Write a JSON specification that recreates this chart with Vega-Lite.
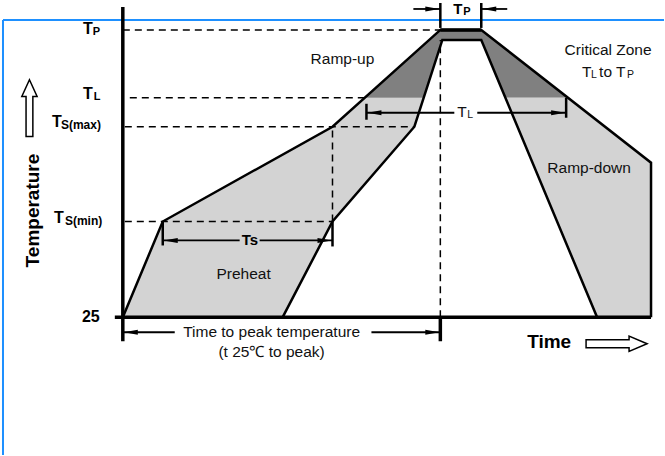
{
  "$schema": "https://vega.github.io/schema/vega-lite/v6.json",
  "width": 665,
  "height": 456,
  "padding": 0,
  "autosize": {"type": "fit", "contains": "padding"},
  "config": {"view": {"stroke": null}, "text": {"font": "Liberation Sans"}},
  "datasets": {
    "border": [
      {"t": -120, "t2": -120, "T": -113, "T2": 323},
      {"t": -120, "t2": 542, "T": 323, "T2": 323}
    ],
    "zones": [
      {"region": "leftLight", "shade": "light", "T": 25, "t": 0, "t2": 160},
      {"region": "leftLight", "shade": "light", "T": 121, "t": 40, "t2": 210},
      {"region": "leftLight", "shade": "light", "T": 216, "t": 210, "t2": 292},
      {"region": "leftLight", "shade": "light", "T": 245, "t": 242.3, "t2": 301.3},
      {"region": "leftDark", "shade": "dark", "T": 245, "t": 242.3, "t2": 301.3},
      {"region": "leftDark", "shade": "dark", "T": 303, "t": 306.9, "t2": 320},
      {"region": "topDark", "shade": "dark", "T": 303, "t": 306.9, "t2": 371.8},
      {"region": "topDark", "shade": "dark", "T": 313, "t": 318, "t2": 359},
      {"region": "rightDark", "shade": "dark", "T": 245, "t": 383.2, "t2": 445.9},
      {"region": "rightDark", "shade": "dark", "T": 303, "t": 359, "t2": 371.8},
      {"region": "rightLight", "shade": "light", "T": 25, "t": 475, "t2": 529},
      {"region": "rightLight", "shade": "light", "T": 180, "t": 410.3, "t2": 529},
      {"region": "rightLight", "shade": "light", "T": 245, "t": 383.2, "t2": 445.9}
    ],
    "dashed": [
      {"t": 0, "t2": 318, "T": 313, "T2": 313},
      {"t": 7, "t2": 242, "T": 245, "T2": 245},
      {"t": 2, "t2": 292, "T": 216, "T2": 216},
      {"t": 2, "t2": 210, "T": 121, "T2": 121},
      {"t": 210, "t2": 210, "T": 121, "T2": 216},
      {"t": 318, "t2": 318, "T": 25, "T2": 303}
    ],
    "profiles": [
      {"id": "outer", "seq": 1, "t": 0, "T": 25},
      {"id": "outer", "seq": 2, "t": 40, "T": 121},
      {"id": "outer", "seq": 3, "t": 210, "T": 216},
      {"id": "outer", "seq": 4, "t": 318, "T": 313},
      {"id": "outer", "seq": 5, "t": 359, "T": 313},
      {"id": "outer", "seq": 6, "t": 529, "T": 180},
      {"id": "outer", "seq": 7, "t": 529, "T": 25},
      {"id": "inner", "seq": 1, "t": 160, "T": 25},
      {"id": "inner", "seq": 2, "t": 210, "T": 121},
      {"id": "inner", "seq": 3, "t": 292, "T": 216},
      {"id": "inner", "seq": 4, "t": 320, "T": 303},
      {"id": "inner", "seq": 5, "t": 359, "T": 303},
      {"id": "inner", "seq": 6, "t": 475, "T": 25}
    ],
    "thick": [
      {"t": 0, "t2": 0, "T": 1, "T2": 336},
      {"t": -8, "t2": 529, "T": 25, "T2": 25},
      {"t": 318, "t2": 359, "T": 313, "T2": 313},
      {"t": 318, "t2": 318, "T": 1, "T2": 25}
    ],
    "ticks": [
      {"t": 318, "t2": 318, "T": 315, "T2": 340},
      {"t": 359, "t2": 359, "T": 315, "T2": 340},
      {"t": 40, "t2": 40, "T": 97, "T2": 121},
      {"t": 210, "t2": 210, "T": 96, "T2": 121},
      {"t": 244, "t2": 244, "T": 223, "T2": 239},
      {"t": 444, "t2": 444, "T": 225, "T2": 245}
    ],
    "shafts": [
      {"t": 291, "t2": 318, "T": 334, "T2": 334},
      {"t": 359, "t2": 385, "T": 334, "T2": 334},
      {"t": 244, "t2": 332, "T": 230, "T2": 230},
      {"t": 355, "t2": 444, "T": 230, "T2": 230},
      {"t": 40, "t2": 117, "T": 102, "T2": 102},
      {"t": 137, "t2": 210, "T": 102, "T2": 102},
      {"t": 0, "t2": 52, "T": 10, "T2": 10},
      {"t": 249, "t2": 318, "T": 10, "T2": 10}
    ],
    "headsRight": [
      {"t": 317, "T": 334},
      {"t": 443, "T": 230},
      {"t": 209, "T": 102},
      {"t": 317, "T": 10}
    ],
    "headsLeft": [
      {"t": 360, "T": 334},
      {"t": 245, "T": 230},
      {"t": 41, "T": 102},
      {"t": 1, "T": 10}
    ],
    "bold16": [
      {"label": "T", "t": -40, "T": 314},
      {"label": "T", "t": -40, "T": 249},
      {"label": "T", "t": -71, "T": 220.5},
      {"label": "T", "t": -69, "T": 124.5},
      {"label": "25", "t": -41, "T": 25}
    ],
    "bold11": [
      {"label": "P", "t": -30, "T": 311},
      {"label": "L", "t": -29, "T": 246},
      {"label": "P", "t": 341, "T": 331}
    ],
    "bold12": [
      {"label": "S(max)", "t": -62, "T": 218},
      {"label": "S(min)", "t": -58, "T": 122}
    ],
    "bold15": [
      {"label": "T", "t": 331, "T": 334},
      {"label": "Ts", "t": 119, "T": 102}
    ],
    "axisTitle": [
      {"label": "Temperature", "t": -90, "T": 132}
    ],
    "timeTitle": [
      {"label": "Time", "t": 427, "T": 0}
    ],
    "zoneLabels": [
      {"label": "Ramp-up", "t": 220, "T": 284},
      {"label": "Critical Zone", "t": 486, "T": 293},
      {"label": "Ramp-down", "t": 467, "T": 175},
      {"label": "Preheat", "t": 121, "T": 68}
    ],
    "timeLabels": [
      {"label": "Time to peak temperature", "t": 149, "T": 10},
      {"label": "(t 25℃ to peak)", "t": 149, "T": -10}
    ],
    "reg15": [
      {"label": "T", "t": 460, "T": 271},
      {"label": "to T", "t": 477, "T": 271},
      {"label": "T", "t": 335, "T": 231}
    ],
    "reg10": [
      {"label": "L", "t": 469, "T": 268},
      {"label": "P", "t": 505, "T": 268},
      {"label": "L", "t": 345, "T": 228}
    ],
    "upArrow": [{"t": -93.5, "T": 234.7}],
    "rightArrow": [{"t": 494.5, "T": -1.5}]
  },
  "encoding": {
    "x": {"field": "t", "type": "quantitative", "scale": {"domain": [-123, 542], "nice": false, "zero": false}, "axis": null},
    "y": {"field": "T", "type": "quantitative", "scale": {"domain": [-113, 343], "nice": false, "zero": false}, "axis": null}
  },
  "layer": [
    {
      "data": {"name": "border"},
      "mark": {"type": "rule", "color": "#1e90ff", "strokeWidth": 2},
      "encoding": {"x2": {"field": "t2"}, "y2": {"field": "T2"}}
    },
    {
      "data": {"name": "zones"},
      "mark": {"type": "area", "opacity": 1, "orient": "horizontal"},
      "encoding": {
        "x2": {"field": "t2"},
        "detail": {"field": "region"},
        "color": {"field": "shade", "type": "nominal", "scale": {"domain": ["light", "dark"], "range": ["#d3d3d3", "#808080"]}, "legend": null}
      }
    },
    {
      "data": {"name": "dashed"},
      "mark": {"type": "rule", "color": "black", "strokeWidth": 1.5, "strokeDash": [7, 5]},
      "encoding": {"x2": {"field": "t2"}, "y2": {"field": "T2"}}
    },
    {
      "data": {"name": "profiles"},
      "mark": {"type": "line", "color": "black", "strokeWidth": 2.5},
      "encoding": {"detail": {"field": "id"}, "order": {"field": "seq", "type": "quantitative"}}
    },
    {
      "data": {"name": "thick"},
      "mark": {"type": "rule", "color": "black", "strokeWidth": 3.5},
      "encoding": {"x2": {"field": "t2"}, "y2": {"field": "T2"}}
    },
    {
      "data": {"name": "ticks"},
      "mark": {"type": "rule", "color": "black", "strokeWidth": 2.5},
      "encoding": {"x2": {"field": "t2"}, "y2": {"field": "T2"}}
    },
    {
      "data": {"name": "shafts"},
      "mark": {"type": "rule", "color": "black", "strokeWidth": 1.8},
      "encoding": {"x2": {"field": "t2"}, "y2": {"field": "T2"}}
    },
    {
      "data": {"name": "headsRight"},
      "mark": {"type": "point", "shape": "M0,0L-2,-0.36L-2,0.36Z", "size": 196, "filled": true, "color": "black", "opacity": 1, "strokeWidth": 0}
    },
    {
      "data": {"name": "headsLeft"},
      "mark": {"type": "point", "shape": "M0,0L2,-0.36L2,0.36Z", "size": 196, "filled": true, "color": "black", "opacity": 1, "strokeWidth": 0}
    },
    {
      "data": {"name": "upArrow"},
      "mark": {"type": "point", "shape": "M0,-1L0.27,-0.41L0.12,-0.41L0.12,1L-0.12,1L-0.12,-0.41L-0.27,-0.41Z", "size": 3215, "fill": "white", "stroke": "black", "strokeWidth": 1.5, "opacity": 1}
    },
    {
      "data": {"name": "rightArrow"},
      "mark": {"type": "point", "shape": "M1,0L0.41,-0.25L0.41,-0.13L-1,-0.13L-1,0.13L0.41,0.13L0.41,0.25Z", "size": 3721, "fill": "white", "stroke": "black", "strokeWidth": 1.5, "opacity": 1}
    },
    {
      "data": {"name": "bold16"},
      "mark": {"type": "text", "fontSize": 16, "fontWeight": "bold", "align": "left", "baseline": "middle", "color": "black"},
      "encoding": {"text": {"field": "label"}}
    },
    {
      "data": {"name": "bold11"},
      "mark": {"type": "text", "fontSize": 11, "fontWeight": "bold", "align": "left", "baseline": "middle", "color": "black"},
      "encoding": {"text": {"field": "label"}}
    },
    {
      "data": {"name": "bold12"},
      "mark": {"type": "text", "fontSize": 12, "fontWeight": "bold", "align": "left", "baseline": "middle", "color": "black"},
      "encoding": {"text": {"field": "label"}}
    },
    {
      "data": {"name": "bold15"},
      "mark": {"type": "text", "fontSize": 15, "fontWeight": "bold", "align": "left", "baseline": "middle", "color": "black"},
      "encoding": {"text": {"field": "label"}}
    },
    {
      "data": {"name": "axisTitle"},
      "mark": {"type": "text", "fontSize": 19, "fontWeight": "bold", "align": "center", "baseline": "middle", "angle": 270, "color": "black"},
      "encoding": {"text": {"field": "label"}}
    },
    {
      "data": {"name": "timeTitle"},
      "mark": {"type": "text", "fontSize": 19, "fontWeight": "bold", "align": "center", "baseline": "middle", "color": "black"},
      "encoding": {"text": {"field": "label"}}
    },
    {
      "data": {"name": "zoneLabels"},
      "mark": {"type": "text", "fontSize": 15.5, "align": "center", "baseline": "middle", "color": "#111111"},
      "encoding": {"text": {"field": "label"}}
    },
    {
      "data": {"name": "timeLabels"},
      "mark": {"type": "text", "fontSize": 15.5, "align": "center", "baseline": "middle", "color": "#111111"},
      "encoding": {"text": {"field": "label"}}
    },
    {
      "data": {"name": "reg15"},
      "mark": {"type": "text", "fontSize": 15.5, "align": "left", "baseline": "middle", "color": "#111111"},
      "encoding": {"text": {"field": "label"}}
    },
    {
      "data": {"name": "reg10"},
      "mark": {"type": "text", "fontSize": 10.5, "align": "left", "baseline": "middle", "color": "#111111"},
      "encoding": {"text": {"field": "label"}}
    }
  ]
}
